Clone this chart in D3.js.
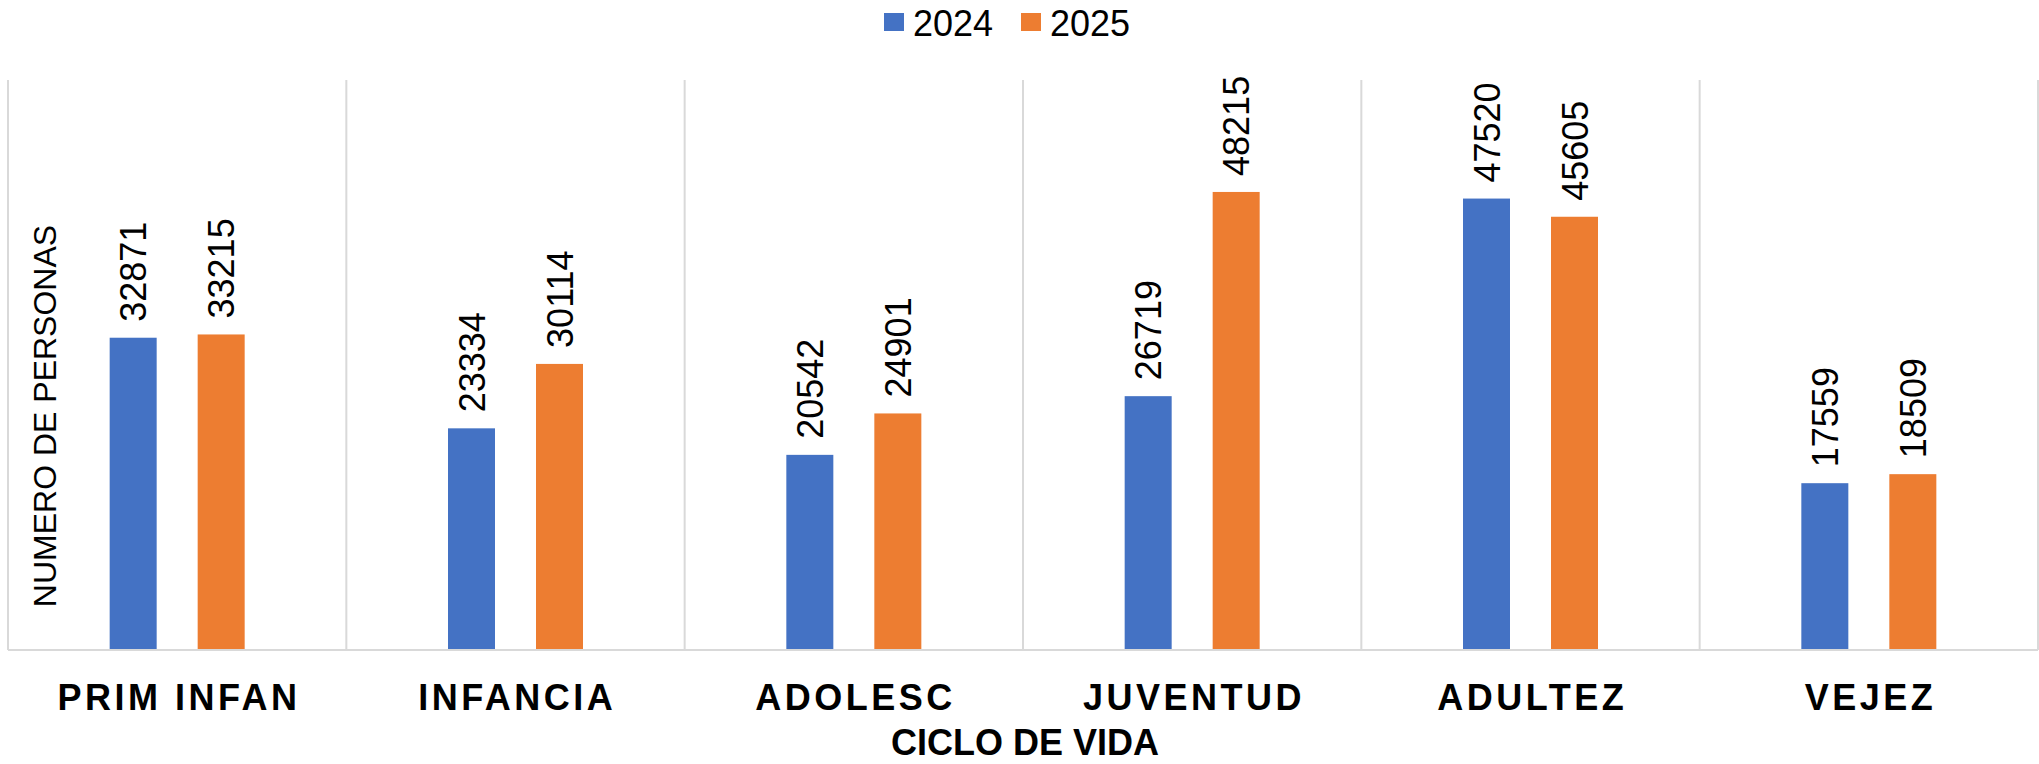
<!DOCTYPE html>
<html>
<head>
<meta charset="utf-8">
<script src="https://cdn.jsdelivr.net/npm/d3@7"></script>
<style>
  html, body { margin: 0; padding: 0; background: #fff; }
  svg { display: block; font-family: "Liberation Sans", Arial, sans-serif; }
</style>
</head>
<body>
<svg id="chart" width="2039" height="764"></svg>
<script>
const categories = ["PRIM INFAN", "INFANCIA", "ADOLESC", "JUVENTUD", "ADULTEZ", "VEJEZ"];
const series = ["2024", "2025"];
const values2024 = [32871, 23334, 20542, 26719, 47520, 17559];
const values2025 = [33215, 30114, 24901, 48215, 45605, 18509];
const yDomain = [0, 60000];
const colors = ["#4472C4", "#ED7D31"];

const svg = d3.select("#chart");
const plot = { left: 8, right: 2038, top: 80, bottom: 650 };

const x = d3.scaleBand().domain(categories).range([plot.left, plot.right]).padding(0);
const x1 = d3.scalePoint().domain(series).range([-44, 44]);
const y = d3.scaleLinear().domain(yDomain).range([plot.bottom, plot.top]);
const color = d3.scaleOrdinal().domain(series).range(colors);
const barW = 47;

const data = [];
categories.forEach((c, i) => {
  data.push({ cat: c, s: "2024", v: values2024[i] });
  data.push({ cat: c, s: "2025", v: values2025[i] });
});

// vertical gridlines at category boundaries
const bounds = categories.map(c => x(c)).concat([plot.right]);
svg.append("g").selectAll("line").data(bounds).join("line")
  .attr("x1", d => d).attr("x2", d => d)
  .attr("y1", plot.top).attr("y2", plot.bottom)
  .attr("stroke", "#d9d9d9").attr("stroke-width", 2);

// bars
svg.append("g").selectAll("rect").data(data).join("rect")
  .attr("x", d => x(d.cat) + x.bandwidth() / 2 + x1(d.s) - barW / 2)
  .attr("y", d => y(d.v))
  .attr("width", barW)
  .attr("height", d => y(0) - y(d.v))
  .attr("fill", d => color(d.s));

// data labels
svg.append("g").selectAll("text").data(data).join("text")
  .attr("transform", d => `translate(${x(d.cat) + x.bandwidth() / 2 + x1(d.s) + 13},${y(d.v) - 16}) rotate(-90)`)
  .attr("text-anchor", "start")
  .attr("font-size", 36)
  .attr("fill", "#000")
  .text(d => d.v);

// category axis
const ls = 3.5;
const xAxis = d3.axisBottom(x).tickSize(0).tickPadding(0);
const gx = svg.append("g").attr("transform", `translate(0,${plot.bottom})`).call(xAxis);
gx.select(".domain").attr("stroke", "#d9d9d9").attr("stroke-width", 2).attr("d", `M${plot.left},0H${plot.right}`);
gx.selectAll(".tick text")
  .attr("font-family", "\"Liberation Sans\", Arial, sans-serif")
  .attr("font-size", 36).attr("font-weight", "bold")
  .attr("fill", "#000")
  .attr("letter-spacing", ls)
  .attr("dx", ls / 2)
  .attr("dy", 0)
  .attr("y", 60);

// axis titles
svg.append("text")
  .attr("x", (plot.left + plot.right) / 2 + 2).attr("y", 755)
  .attr("text-anchor", "middle").attr("font-size", 36).attr("font-weight", "bold")
  .attr("fill", "#000").text("CICLO DE VIDA");

svg.append("text")
  .attr("transform", `translate(56,416) rotate(-90)`)
  .attr("text-anchor", "middle").attr("font-size", 32)
  .attr("fill", "#000").text("NUMERO DE PERSONAS");

// legend
const legendX = [884, 1021];
const lg = svg.append("g").selectAll("g").data(series).join("g")
  .attr("transform", (d, i) => `translate(${legendX[i]},0)`);
lg.append("rect").attr("x", 0).attr("y", 13).attr("width", 20).attr("height", 18)
  .attr("fill", d => color(d));
lg.append("text").attr("x", 29).attr("y", 36).attr("font-size", 36).attr("fill", "#000")
  .text(d => d);
</script>
</body>
</html>
